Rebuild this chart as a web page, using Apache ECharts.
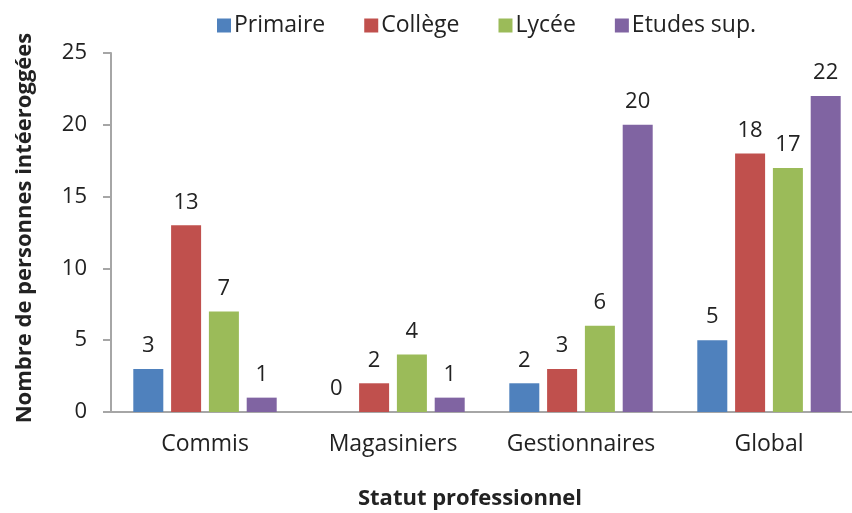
<!DOCTYPE html>
<html><head><meta charset="utf-8">
<script src="https://cdn.jsdelivr.net/npm/echarts@6/dist/echarts.min.js"></script>
<style>html,body{margin:0;padding:0;background:#fff}#c{width:852px;height:513px}</style>
</head><body><div id="c"></div>
<script>
const categories = ['Commis', 'Magasiniers', 'Gestionnaires', 'Global'];
const seriesNames = ['Primaire', 'Collège', 'Lycée', 'Etudes sup.'];
const primaire = [3, 0, 2, 5];
const college = [13, 2, 3, 18];
const lycee = [7, 4, 6, 17];
const etudes = [1, 1, 20, 22];
const yTicks = [0, 5, 10, 15, 20, 25];
const colors = ['#4F81BD', '#C0504D', '#9BBB59', '#8064A2'];
const values = [primaire, college, lycee, etudes];
const FONT = '"Open Sans", sans-serif';
const TXT = '#222';

const chart = echarts.init(document.getElementById('c'));
chart.setOption({
  animation: false,
  color: colors,
  legend: {
    top: 9, left: 212,
    itemWidth: 14, itemHeight: 14, itemGap: 39,
    icon: 'rect',
    textStyle: { fontFamily: FONT, fontSize: 23, color: TXT, padding: [0, 0, 0, -2] },
    data: seriesNames
  },
  grid: { left: 111, top: 53, width: 752, bottom: 101, containLabel: false, outerBoundsMode: 'none' },
  xAxis: {
    type: 'category', data: categories,
    axisLine: { lineStyle: { color: '#a6a6a6', width: 2 } },
    axisTick: { show: false },
    axisLabel: { interval: 0, hideOverlap: false, fontFamily: FONT, fontSize: 23, color: TXT, margin: 21 }
  },
  yAxis: {
    type: 'value', min: yTicks[0], max: yTicks[yTicks.length - 1], interval: 5,
    splitLine: { show: false },
    axisLine: { show: true, lineStyle: { color: '#a6a6a6', width: 2 } },
    axisTick: { show: true, length: 8, lineStyle: { color: '#a6a6a6', width: 2 } },
    axisLabel: { fontFamily: FONT, fontSize: 22, color: TXT, margin: 24 }
  },
  graphic: [
    { type: 'text', x: 470, y: 499, style: { text: 'Statut professionnel', fontFamily: FONT, fontSize: 22, fontWeight: 'bold', fill: TXT, align: 'center', verticalAlign: 'middle' } },
    { type: 'text', x: 25, y: 228, rotation: Math.PI / 2, style: { text: 'Nombre de personnes intéeroggées', fontFamily: FONT, fontSize: 22, fontWeight: 'bold', fill: TXT, align: 'center', verticalAlign: 'middle' } }
  ],
  series: seriesNames.map((n, i) => ({
    name: n, type: 'bar', data: values[i],
    barWidth: 30, barGap: '26%',
    itemStyle: { color: colors[i] },
    label: { show: true, position: 'top', distance: 12, fontFamily: FONT, fontSize: 22, color: TXT }
  }))
});
</script></body></html>
